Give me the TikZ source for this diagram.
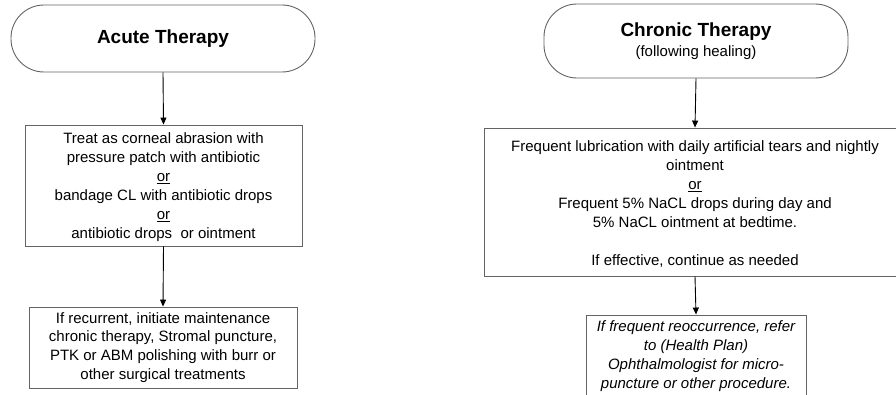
\documentclass[tikz,border=0pt]{standalone}
\usepackage{fontspec}
\setmainfont{Liberation Sans}
\usetikzlibrary{arrows.meta}
\definecolor{boxline}{RGB}{100,100,100}
\tikzset{
  base/.style={draw=boxline, line width=0.9pt, align=center, inner sep=0pt,
    font=\fontsize{15pt}{18.9pt}\selectfont},
  term/.style={base, rounded corners=33pt},
  stepbox/.style={base},
  conn/.style={draw=black, line width=0.9pt, -{Triangle[length=7pt,width=6pt]}}
}
\begin{document}
\begin{tikzpicture}[x=1pt,y=-1pt]
\useasboundingbox (0,0) rectangle (896,395);
\clip (0,0) rectangle (896,395);
% Acute column
\node[term, minimum width=304pt, minimum height=67pt] (acute) at (163,38.5)
  {\fontsize{19pt}{22pt}\selectfont\bfseries Acute Therapy};
\node[stepbox, minimum width=277pt, minimum height=121pt] (a1) at (163.5,185.5)
  {\rule{0pt}{14pt}Treat as corneal abrasion with\\
   pressure patch with antibiotic\\
   \underline{or}\\
   bandage CL with antibiotic drops\\
   \underline{or}\\
   antibiotic drops\ \ or ointment};
\node[stepbox, minimum width=268pt, minimum height=81pt] (a2) at (163,347.5)
  {If recurrent, initiate maintenance\\
   chronic therapy, Stromal puncture,\\
   PTK or ABM polishing with burr or\\
   other surgical treatments};
% Chronic column
\node[term, minimum width=304pt, minimum height=74pt] (chronic) at (696,41)
  {{\fontsize{19pt}{22pt}\selectfont\bfseries Chronic Therapy}\\[1.5pt]
   (following healing)};
\node[stepbox, minimum width=422pt, minimum height=148pt] (c1) at (695,202)
  {\rule{0pt}{15pt}Frequent lubrication with daily artificial tears and nightly\\
   ointment\\
   \underline{or}\\
   Frequent 5\% NaCL drops during day and\\
   5\% NaCL ointment at bedtime.\\[18.9pt]
   If effective, continue as needed};
\node[stepbox, minimum width=220pt, minimum height=82pt, font=\fontsize{15pt}{18.9pt}\selectfont\itshape] (c2) at (696,356)
  {If frequent reoccurrence, refer\\
   to (Health Plan)\\
   Ophthalmologist for micro-\\
   puncture or other procedure.};
% connectors
\draw[conn] (acute.south) -- (a1.north);
\draw[conn] (a1.south) -- (a2.north);
\draw[conn] (chronic.south) -- (c1.north);
\draw[conn] (c1.south) -- (c2.north);
\end{tikzpicture}
\end{document}
